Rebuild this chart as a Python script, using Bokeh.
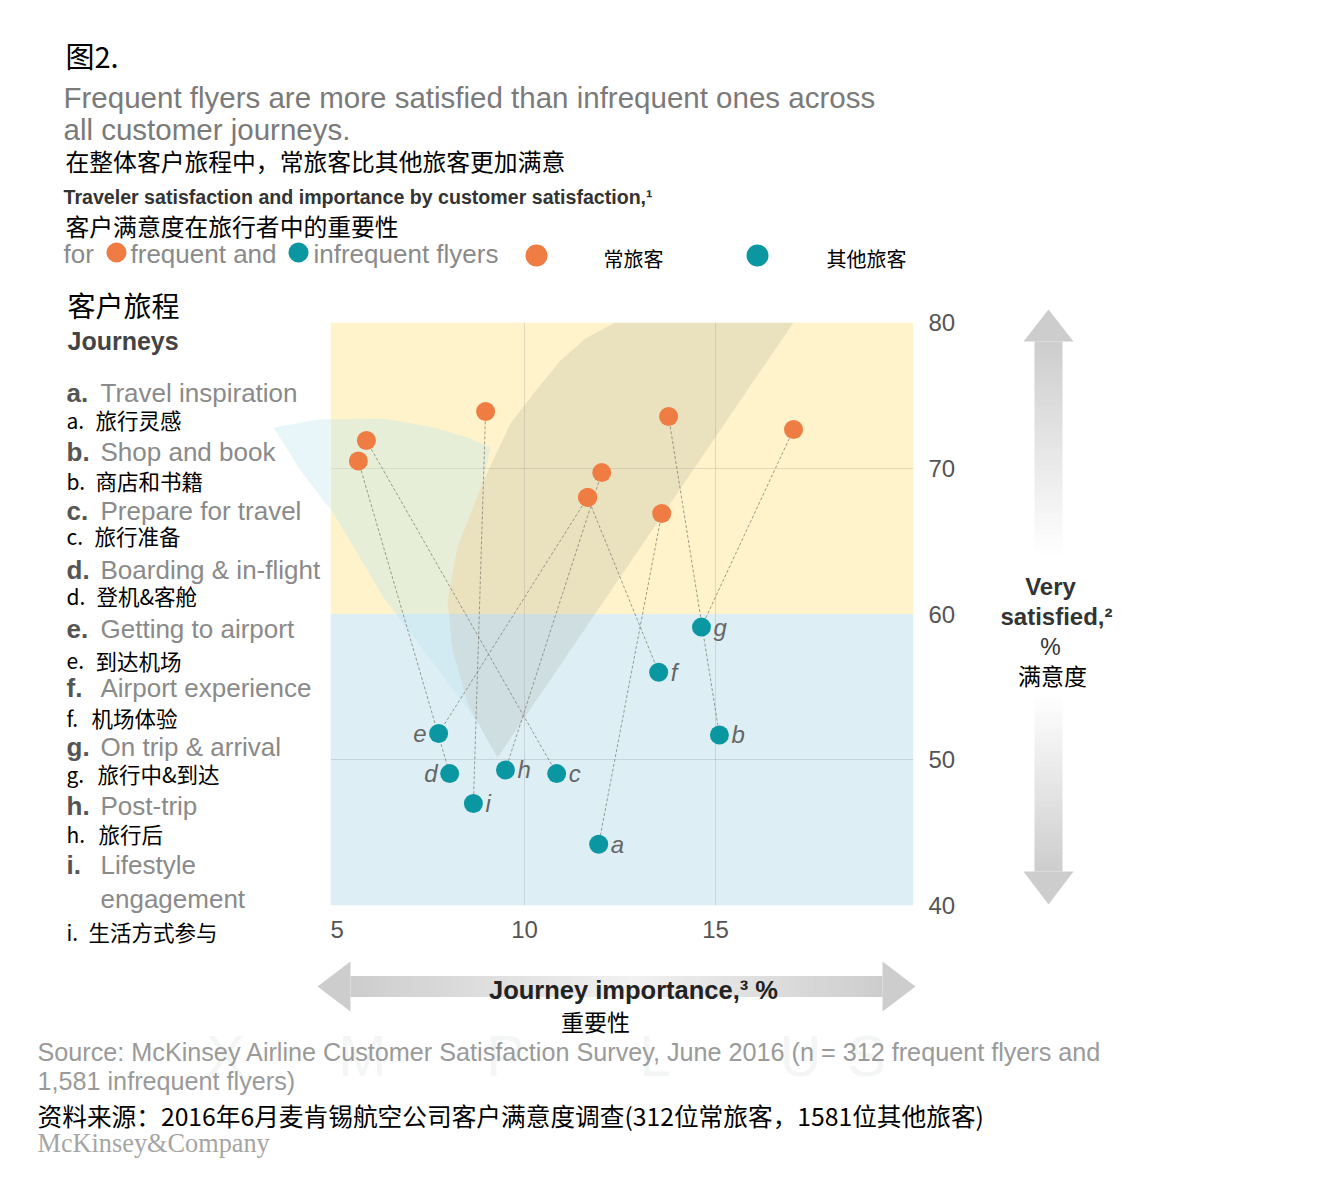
from bokeh.plotting import figure
from bokeh.layouts import column, row
from bokeh.models import Range1d, FixedTicker, ColumnDataSource, BoxAnnotation
from bokeh.core.properties import value
from bokeh.embed import file_html
from bokeh.resources import INLINE

# ---------------- data ----------------
journeys = ["a", "b", "c", "d", "e", "f", "g", "h", "i"]
freq_importance = [13.59, 13.77, 5.86, 5.65, 11.65, 11.65, 17.04, 12.02, 8.98]
freq_satisfied = [66.9, 73.55, 71.9, 70.5, 68.0, 68.0, 72.66, 69.7, 73.9]
infreq_importance = [11.94, 15.10, 10.84, 8.04, 7.75, 13.51, 14.63, 9.50, 8.66]
infreq_satisfied = [44.2, 51.7, 49.05, 49.05, 51.8, 56.0, 59.1, 49.3, 47.0]
label_side = ["right", "right", "right", "left", "left", "right", "right", "right", "right"]
x_ticks = [5, 10, 15]
y_ticks = [40, 50, 60, 70, 80]
very_satisfied_split = 60

journeys_en = ["Travel inspiration", "Shop and book", "Prepare for travel", "Boarding & in-flight",
               "Getting to airport", "Airport experience", "On trip & arrival", "Post-trip", "Lifestyle"]
journeys_zh = ["旅行灵感", "商店和书籍", "旅行准备", "登机&客舱", "到达机场", "机场体验", "旅行中&到达", "旅行后", "生活方式参与"]

# ---------------- style / layout ----------------
SANS = "Liberation Sans"
CJK = "Noto Sans CJK SC"
ORANGE = "#EF7C43"
TEAL = "#0B97A2"
GREY = "#cdcdcd"
WM = "#8fa0a0"

TOTAL_W = 1330
TOP_H = 280                  # page y where middle row starts
FL, FT, FW, FH = 330, 322, 583, 583   # main frame in page px
MAIN_W = 650
MID_BOTTOM = 952
BOTTOM_H = 1192 - MID_BOTTOM
X0, X1 = 4.92, 20.18
Y0, Y1 = 40, 80


def aux(x0, x1, y0, y1):
    f = figure(width=x1 - x0, height=y1 - y0, x_range=Range1d(x0, x1), y_range=Range1d(y1, y0),
               x_axis_location=None, y_axis_location=None, output_backend="svg", toolbar_location=None,
               min_border=0)
    f.grid.visible = False
    f.outline_line_color = None
    f.background_fill_color = "white"
    f.border_fill_color = "white"
    return f


top = aux(0, TOTAL_W, 0, TOP_H)
left = aux(0, FL, TOP_H, MID_BOTTOM)
right = aux(FL + MAIN_W, TOTAL_W, TOP_H, MID_BOTTOM)
bottom = aux(0, TOTAL_W, MID_BOTTOM, MID_BOTTOM + BOTTOM_H)

p = figure(frame_width=FW, frame_height=FH, x_range=Range1d(X0, X1), y_range=Range1d(Y0, Y1),
           y_axis_location="right", output_backend="svg", toolbar_location=None,
           min_border_left=0, min_border_right=MAIN_W - FW, min_border_top=FT - TOP_H,
           min_border_bottom=MID_BOTTOM - FT - FH)
p.outline_line_color = None
p.background_fill_color = "white"
p.border_fill_color = "white"

for ax in (p.xaxis[0], p.yaxis[0]):
    ax.axis_line_color = None
    ax.major_tick_line_color = None
    ax.minor_tick_line_color = None
    ax.major_label_text_font = SANS
    ax.major_label_text_font_size = "24px"
    ax.major_label_text_color = "#555555"
p.xaxis.major_label_standoff = 9
p.yaxis.major_label_standoff = 9
p.xaxis.ticker = FixedTicker(ticks=x_ticks)
p.yaxis.ticker = FixedTicker(ticks=y_ticks)
p.xgrid.ticker = FixedTicker(ticks=[10, 15])
p.ygrid.ticker = FixedTicker(ticks=[50, 70])
p.grid.grid_line_color = "#7a7a7a"
p.grid.grid_line_alpha = 0.22

p.add_layout(BoxAnnotation(bottom=very_satisfied_split, top=Y1, fill_color="#FEF3CA", fill_alpha=1,
                           line_color=None, level="image"))
p.add_layout(BoxAnnotation(bottom=Y0, top=very_satisfied_split, fill_color="#DDEFF5", fill_alpha=1,
                           line_color=None, level="image"))

PX_X = FW / (X1 - X0)
PX_Y = FH / (Y1 - Y0)


def tx(px):   # page px -> main data x (decoration only)
    return X0 + (px - FL) / PX_X


def ty(py):
    return Y1 - (py - FT) / PX_Y


# faint watermark logo (decoration, page px)
wm_left = [(273, 427), (317, 419), (383, 418), (433, 427), (467, 437), (490, 447), (483, 480), (457, 547),
           (447, 600), (452, 650), (468, 705), (497, 757), (483, 730), (433, 663), (383, 597), (333, 513),
           (300, 470)]
wm_right = [(497, 757), (793, 322), (615, 322), (585, 338), (560, 360), (533, 393), (510, 423), (483, 480),
            (457, 547), (447, 600), (452, 650), (468, 705)]
p.patch([tx(a) for a, b in wm_left], [ty(b) for a, b in wm_left], fill_color="#BDE5F0", fill_alpha=0.35,
        line_color=None)
left.patch([a for a, b in wm_left], [b for a, b in wm_left], fill_color="#BDE5F0", fill_alpha=0.35,
           line_color=None)
p.patch([tx(a) for a, b in wm_right], [ty(b) for a, b in wm_right], fill_color="#9a9a90", fill_alpha=0.2,
        line_color=None)

# connectors
p.segment(x0=freq_importance, y0=freq_satisfied, x1=infreq_importance, y1=infreq_satisfied,
          line_color="#7d7d70", line_width=1, line_dash="3 2", line_alpha=0.75)

# points
p.scatter(freq_importance, freq_satisfied, size=19, fill_color=ORANGE, line_color=None)
p.scatter(infreq_importance, infreq_satisfied, size=19, fill_color=TEAL, line_color=None)

# letters beside infrequent points
rsrc = ColumnDataSource(dict(x=[x for x, s in zip(infreq_importance, label_side) if s == "right"],
                             y=[y for y, s in zip(infreq_satisfied, label_side) if s == "right"],
                             t=[j for j, s in zip(journeys, label_side) if s == "right"]))
lsrc = ColumnDataSource(dict(x=[x for x, s in zip(infreq_importance, label_side) if s == "left"],
                             y=[y for y, s in zip(infreq_satisfied, label_side) if s == "left"],
                             t=[j for j, s in zip(journeys, label_side) if s == "left"]))
common = dict(text="t", text_font=value(SANS), text_font_size="24px", text_font_style="italic",
              text_color="#666666", text_baseline="middle")
p.text(x="x", y="y", source=rsrc, x_offset=12, text_align="left", **common)
p.text(x="x", y="y", source=lsrc, x_offset=-12, text_align="right", **common)


# ---------------- helpers for decoration figures ----------------
def lab(f, text, X, Y, size, color="#000000", font=SANS, style="normal", align="left", alpha=1.0):
    f.text(x=[X], y=[Y], text=[text], text_font=value(font), text_font_size=f"{size}px",
           text_color=color, text_font_style=style, text_align=align, text_baseline="middle",
           text_alpha=alpha)


def mix(c0, c1, t):
    a = [int(c0[i:i + 2], 16) for i in (1, 3, 5)]
    b = [int(c1[i:i + 2], 16) for i in (1, 3, 5)]
    return "#" + "".join(f"{round(a[k] + (b[k] - a[k]) * t):02x}" for k in range(3))


def vshaft(f, x, ya, yb, w, end="#ffffff", n=40):
    step = (yb - ya) / n
    for k in range(n):
        y0 = ya + step * k
        y1 = y0 + step + (1 if step > 0 else -1)
        f.quad(left=x - w / 2, right=x + w / 2, top=min(y0, y1), bottom=max(y0, y1),
               fill_color=mix(GREY, end, (k + 0.5) / n), line_color=None)


def hshaft(f, y, xa, xb, w, end="#ffffff", n=40):
    step = (xb - xa) / n
    for k in range(n):
        x0 = xa + step * k
        x1 = x0 + step + (1 if step > 0 else -1)
        f.quad(left=min(x0, x1), right=max(x0, x1), top=y - w / 2, bottom=y + w / 2,
               fill_color=mix(GREY, end, (k + 0.5) / n), line_color=None)


def tri(f, pts):
    f.patch([a for a, b in pts], [b for a, b in pts], fill_color=GREY, line_color=None)


# ---------------- top block ----------------
lab(top, "图2.", 65, 54, 29, "#000000", CJK)
lab(top, "Frequent flyers are more satisfied than infrequent ones across", 63, 97, 29.5, "#7a7a7a")
lab(top, "all customer journeys.", 63, 129, 29.5, "#7a7a7a")
lab(top, "在整体客户旅程中，常旅客比其他旅客更加满意", 65, 160, 23.8, "#000000", CJK)
lab(top, "Traveler satisfaction and importance by customer satisfaction,¹", 63, 196, 19.6, "#333333",
    style="bold")
lab(top, "客户满意度在旅行者中的重要性", 65, 225, 23.8, "#000000", CJK)
lab(top, "for", 63, 253, 26, "#8a8a8a")
lab(top, "frequent and", 130, 253, 26, "#8a8a8a")
lab(top, "infrequent flyers", 313, 253, 26, "#8a8a8a")
top.scatter([116], [252], size=20, fill_color=ORANGE, line_color=None)
top.scatter([298], [252], size=20, fill_color=TEAL, line_color=None)
top.scatter([536], [255], size=22, fill_color=ORANGE, line_color=None)
top.scatter([757], [255], size=22, fill_color=TEAL, line_color=None)
lab(top, "常旅客", 603, 258, 20, "#000000", CJK)
lab(top, "其他旅客", 826, 258, 20, "#000000", CJK)

# ---------------- left block ----------------
lab(left, "客户旅程", 67, 304, 28, "#000000", CJK)
lab(left, "Journeys", 67, 340, 25, "#444444", style="bold")
en_y = [392, 451, 510, 569, 628, 687, 746, 805, 864]
zh_y = [419, 480, 535, 595, 660, 717, 773, 833, 931]
zh_x = [95, 95, 94, 96, 95, 91, 97, 98, 88]
for j, en, zh, ye, yz, xz in zip(journeys, journeys_en, journeys_zh, en_y, zh_y, zh_x):
    lab(left, f"{j}.", 66, ye, 26, "#555555", style="bold")
    lab(left, en, 100, ye, 26, "#8a8a8a")
    lab(left, f"{j}.", 66, yz, 21, "#000000", CJK)
    lab(left, zh, xz, yz, 21.5, "#000000", CJK)
lab(left, "engagement", 100, 898, 26, "#8a8a8a")

# ---------------- right block ----------------
tri(right, [(1048, 309), (1023, 341), (1073, 341)])
vshaft(right, 1048, 341, 555, 28)
tri(right, [(1048, 904), (1023, 871), (1073, 871)])
vshaft(right, 1048, 871, 695, 28)
lab(right, "Very", 1050, 586, 24, "#333333", style="bold", align="center")
lab(right, "satisfied,²", 1056, 616, 24, "#333333", style="bold", align="center")
lab(right, "%", 1050, 646, 23, "#333333", align="center")
lab(right, "满意度", 1052, 674, 23, "#000000", CJK, align="center")

# ---------------- bottom block ----------------
tri(bottom, [(317, 986), (350, 961), (350, 1011)])
hshaft(bottom, 986, 350, 633, 21, end="#f1f1f1")
tri(bottom, [(915, 986), (882, 961), (882, 1011)])
hshaft(bottom, 986, 882, 633, 21, end="#f1f1f1")
lab(bottom, "Journey importance,³ %", 633, 989, 25.5, "#222222", style="bold", align="center")
lab(bottom, "重要性", 595, 1020, 23, "#000000", CJK, align="center")
lab(bottom, "Source: McKinsey Airline Customer Satisfaction Survey, June 2016 (n = 312 frequent flyers and",
    37, 1051, 25.2, "#9a9a9a")
lab(bottom, "1,581 infrequent flyers)", 37, 1080, 25.2, "#9a9a9a")
lab(bottom, "资料来源：2016年6月麦肯锡航空公司客户满意度调查(312位常旅客，1581位其他旅客)", 37, 1114, 24.7,
    "#000000", CJK)
lab(bottom, "McKinsey&Company", 37, 1143, 26.3, "#a5a5a5", "Liberation Serif")
for ch, cx in zip("XMPLUS", [225, 362, 505, 655, 800, 866]):
    lab(bottom, ch, cx, 1055, 58, WM, SANS, align="center", alpha=0.1)

layout = column(top, row(column(left), p, column(right)), bottom)
open("out.html", "w").write(file_html(layout, INLINE))
